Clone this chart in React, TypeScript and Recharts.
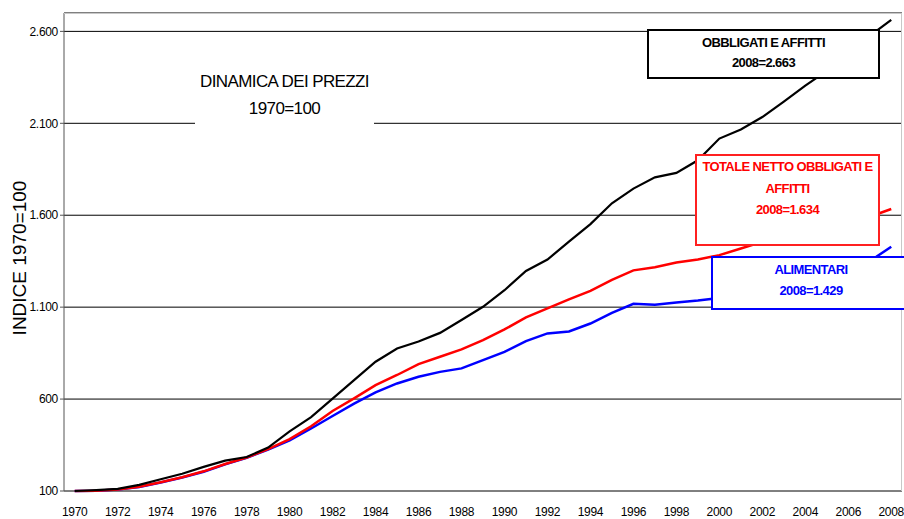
import { LineChart, Line, XAxis, YAxis, CartesianGrid } from "recharts";

const years = [
  1970, 1971, 1972, 1973, 1974, 1975, 1976, 1977, 1978, 1979,
  1980, 1981, 1982, 1983, 1984, 1985, 1986, 1987, 1988, 1989,
  1990, 1991, 1992, 1993, 1994, 1995, 1996, 1997, 1998, 1999,
  2000, 2001, 2002, 2003, 2004, 2005, 2006, 2007, 2008,
];

// OBBLIGATI E AFFITTI
const obbligati = [
  100, 105, 112, 133, 164, 194, 231, 265, 285, 336,
  424, 502, 602, 703, 803, 875, 913, 960, 1030, 1102,
  1192, 1297, 1359, 1456, 1552, 1665, 1745, 1806, 1830, 1899,
  2017, 2066, 2134, 2218, 2305, 2385, 2480, 2575, 2663,
];

// TOTALE NETTO OBBLIGATI E AFFITTI
const totaleNetto = [
  100, 101, 108, 123, 148, 175, 207, 247, 282, 328,
  382, 452, 535, 604, 676, 731, 790, 830, 870, 921,
  979, 1044, 1093, 1142, 1189, 1248, 1300, 1317, 1343, 1359,
  1383, 1419, 1455, 1490, 1515, 1540, 1565, 1592, 1634,
];

// ALIMENTARI
const alimentari = [
  100, 101, 108, 122, 146, 173, 205, 245, 281, 325,
  375, 440, 508, 575, 636, 685, 721, 748, 767, 812,
  857, 915, 957, 968, 1011, 1069, 1118, 1113, 1125, 1136,
  1150, 1172, 1200, 1228, 1256, 1283, 1312, 1350, 1429,
];

const yTicks = [100, 600, 1100, 1600, 2100, 2600];
const yearLabels = [
  1970, 1972, 1974, 1976, 1978, 1980, 1982, 1984, 1986, 1988,
  1990, 1992, 1994, 1996, 1998, 2000, 2002, 2004, 2006, 2008,
];

const data = years.map((year, i) => ({
  year,
  obbligati: obbligati[i],
  totale: totaleNetto[i],
  alimentari: alimentari[i],
}));

// tick marks sit between the years, like an Excel category axis
const tickMarks = [...years.map((y) => y - 0.5), years[years.length - 1] + 0.5];

const fmt = (v: number) => String(v).replace(/\B(?=(\d{3})+(?!\d))/g, ".");

const FONT = '"Liberation Sans", Arial, sans-serif';

const boxText = {
  fontWeight: 700,
  fontSize: 13,
  letterSpacing: -0.6,
  textAlign: "center" as const,
  boxSizing: "border-box" as const,
  position: "absolute" as const,
  background: "#fff",
};

export default function App() {
  return (
    <div
      style={{
        position: "absolute",
        left: 0,
        top: 0,
        width: 904,
        height: 519,
        overflow: "hidden",
        background: "#fff",
        fontFamily: FONT,
        letterSpacing: -0.3,
      }}
    >
      <LineChart width={904} height={519} data={data} margin={{ top: 13, right: 2, bottom: 0, left: 0 }}>
        <CartesianGrid xAxisId="lbl" vertical={false} stroke="#000" />
        <XAxis
          xAxisId="tk"
          dataKey="year"
          type="number"
          domain={[1969.5, 2008.5]}
          ticks={tickMarks}
          interval={0}
          height={0}
          tickSize={4}
          tickFormatter={() => ""}
          stroke="#555"
        />
        <XAxis
          xAxisId="lbl"
          dataKey="year"
          type="number"
          domain={[1969.5, 2008.5]}
          ticks={yearLabels}
          interval={0}
          height={28}
          tickLine={false}
          axisLine={false}
          tickSize={14}
          tickMargin={2}
          tick={{ fontSize: 12, fill: "#000" }}
        />
        <YAxis
          domain={[100, 2700]}
          ticks={yTicks}
          interval={0}
          width={64}
          tickSize={4}
          tickMargin={2}
          stroke="#555"
          tick={{ fontSize: 12, fill: "#000" }}
          tickFormatter={fmt}
        />
        <Line xAxisId="lbl" dataKey="alimentari" stroke="#0000ff" strokeWidth={2.5} dot={false} isAnimationActive={false} />
        <Line xAxisId="lbl" dataKey="totale" stroke="#ff0000" strokeWidth={2.5} dot={false} isAnimationActive={false} />
        <Line xAxisId="lbl" dataKey="obbligati" stroke="#000" strokeWidth={2.2} dot={false} isAnimationActive={false} />
      </LineChart>

      {/* plot frame, top and right */}
      <div
        style={{
          position: "absolute",
          left: 64,
          top: 13,
          width: 838,
          height: 478,
          borderTop: "1px solid #c8c8c8",
          borderRight: "1px solid #c8c8c8",
          boxSizing: "border-box",
        }}
      />

      <div
        style={{
          position: "absolute",
          left: 20,
          top: 258,
          transform: "translate(-50%, -50%) rotate(-90deg)",
          whiteSpace: "nowrap",
          fontSize: 19,
          letterSpacing: 0,
          color: "#000",
        }}
      >
        INDICE 1970=100
      </div>

      <div
        style={{
          position: "absolute",
          left: 195,
          top: 68,
          width: 179,
          height: 58,
          background: "#fff",
          textAlign: "center",
          fontSize: 17,
          lineHeight: "27px",
          letterSpacing: -0.6,
          color: "#000",
        }}
      >
        DINAMICA DEI PREZZI
        <br />
        1970=100
      </div>

      <div
        style={{
          ...boxText,
          left: 647,
          top: 29,
          width: 233,
          height: 50,
          border: "2px solid #000",
          color: "#000",
          lineHeight: "20px",
          paddingTop: 2,
        }}
      >
        OBBLIGATI E AFFITTI
        <br />
        2008=2.663
      </div>

      <div
        style={{
          ...boxText,
          left: 695,
          top: 154,
          width: 185,
          height: 92,
          border: "2px solid #ff2020",
          color: "#ff0000",
          lineHeight: "21.5px",
          paddingTop: 0,
        }}
      >
        TOTALE NETTO OBBLIGATI E
        <br />
        AFFITTI
        <br />
        2008=1.634
      </div>

      <div
        style={{
          ...boxText,
          left: 711,
          top: 256,
          width: 200,
          height: 54,
          border: "2px solid #0000ff",
          color: "#0000ff",
          lineHeight: "21px",
          paddingTop: 1,
        }}
      >
        ALIMENTARI
        <br />
        2008=1.429
      </div>
    </div>
  );
}
